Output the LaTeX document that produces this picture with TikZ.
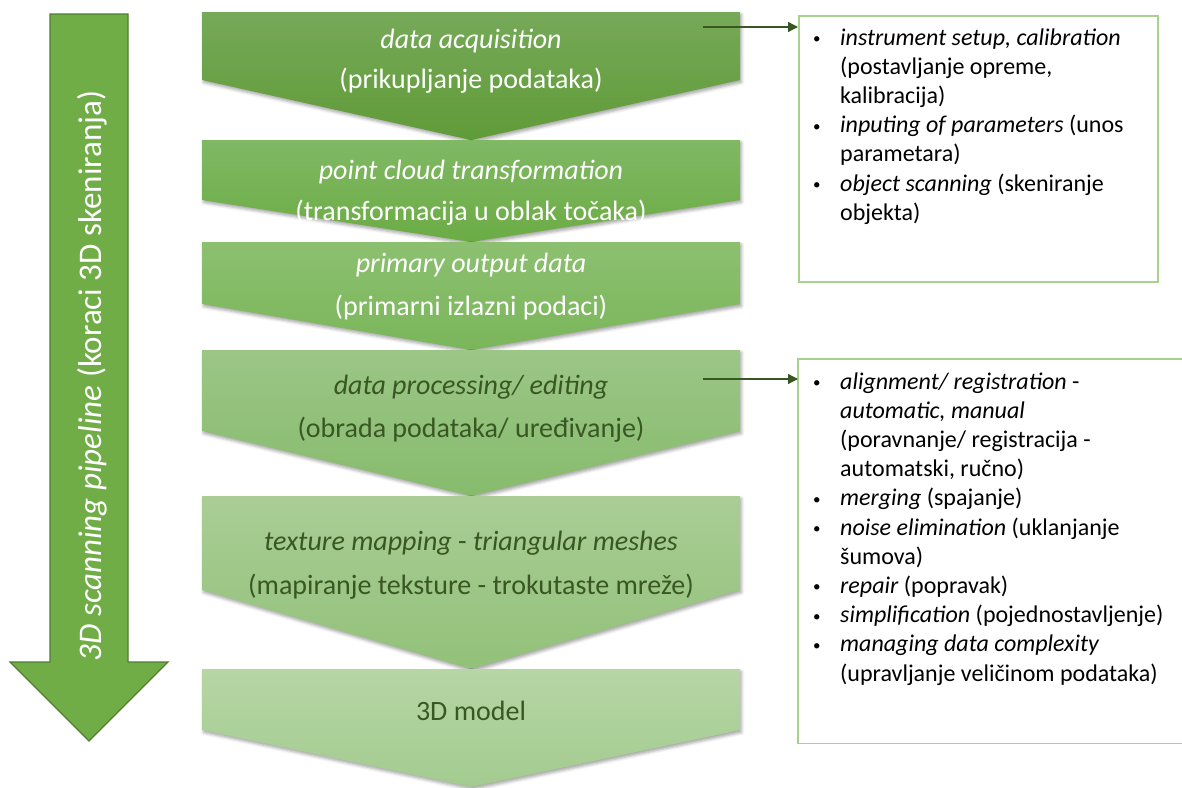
\documentclass[tikz,border=0pt]{standalone}
\usepackage{fontspec}
\setmainfont{Carlito}
\usetikzlibrary{arrows.meta,shadows,shadows.blur}
\definecolor{arrfill}{RGB}{112,173,71}
\definecolor{arrline}{RGB}{80,126,50}
\definecolor{dkgreen}{RGB}{56,87,35}
\definecolor{boxline}{RGB}{169,209,142}
\definecolor{c1t}{RGB}{118,169,88}\definecolor{c1b}{RGB}{96,155,56}
\definecolor{c2t}{RGB}{128,184,100}\definecolor{c2b}{RGB}{107,172,68}
\definecolor{c3t}{RGB}{140,192,112}\definecolor{c3b}{RGB}{122,182,90}
\definecolor{c4t}{RGB}{156,198,135}\definecolor{c4b}{RGB}{134,187,108}
\definecolor{c5t}{RGB}{170,205,150}\definecolor{c5b}{RGB}{146,193,121}
\definecolor{c6t}{RGB}{182,214,165}\definecolor{c6b}{RGB}{163,203,143}
\newcommand\chevshape[5]{%
  \path[chevshadow, top color=#4, bottom color=#5]
    (202,#1) -- (740,#1) -- (740,#2) -- (471,#3) -- (202,#2) -- cycle;}
\newcommand\smallbul{\raisebox{1.5pt}{\fontsize{15}{15}\selectfont\textbullet}}
\begin{document}
\begin{tikzpicture}[x=1pt,y=-1pt,
  chevshadow/.style={blur shadow={shadow xshift=1.5pt, shadow yshift=-2.5pt, shadow blur radius=3pt, shadow opacity=35}},
  chevw/.style={text=white, font=\fontsize{28}{34}\selectfont, anchor=mid, inner sep=0pt},
  chevd/.style={text=dkgreen, font=\fontsize{28}{34}\selectfont, anchor=mid, inner sep=0pt},
  infobox/.style={draw=boxline, line width=1.5pt, inner sep=0pt, anchor=north west},
  boxtext/.style={anchor=base west, inner sep=0pt, font=\fontsize{24}{29.2}\selectfont, text=black},
  conn/.style={draw=dkgreen, line width=1.3pt, -{Triangle[length=10pt,width=10pt]}}]
\useasboundingbox (0,0) rectangle (1182,787);
% big arrow on the left
\path[draw=arrline, fill=arrfill, line width=1.2pt]
  (50,14) -- (128,14) -- (128,662) -- (168,662) -- (89,741) -- (10,662) -- (50,662) -- cycle;
\node[rotate=90, anchor=mid, inner sep=0pt, text=white, font=\fontsize{33}{40}\selectfont] (pipe) at (99,376)
  {\textit{3D scanning pipeline} (koraci 3D skeniranja)};
% chevrons
\chevshape{12}{80}{140}{c1t}{c1b}
\chevshape{140}{200}{242}{c2t}{c2b}
\chevshape{242}{304}{350}{c3t}{c3b}
\chevshape{350}{431}{496}{c4t}{c4b}
\chevshape{496}{590}{669}{c5t}{c5b}
\chevshape{669}{730}{787}{c6t}{c6b}
\node[chevw] (t1a) at (471,46) {\textit{data acquisition}};
\node[chevw] (t1b) at (471,86) {(prikupljanje podataka)};
\node[chevw] (t2a) at (471,177) {\textit{point cloud transformation}};
\node[chevw] (t2b) at (471,218) {(transformacija u oblak točaka)};
\node[chevw] (t3a) at (471,270) {\textit{primary output data}};
\node[chevw] (t3b) at (471,313) {(primarni izlazni podaci)};
\node[chevd] (t4a) at (471,392) {\textit{data processing/ editing}};
\node[chevd] (t4b) at (471,435) {(obrada podataka/ uređivanje)};
\node[chevd] (t5a) at (471,548) {\textit{texture mapping} - \textit{triangular meshes}};
\node[chevd] (t5b) at (471,592) {(mapiranje teksture - trokutaste mreže)};
\node[chevd] (t6a) at (471,718) {3D model};
% info boxes
\node[infobox, minimum width=359pt, minimum height=266pt] (box1) at (798,15) {};
\node[inner sep=0pt, anchor=north west, minimum width=385pt, minimum height=384pt] (box2) at (798,359) {};
\draw[draw=boxline, line width=1.5pt] (box2.north east) -| (box2.south west) -- (box2.south east);
\node[boxtext] (list1) at (813,45) {\begin{tabular}[t]{@{}p{27pt}@{}l@{}}
\smallbul & \textit{instrument setup, calibration}\\
 & (postavljanje opreme,\\
 & kalibracija)\\
\smallbul & \textit{inputing of parameters} (unos\\
 & parametara)\\
\smallbul & \textit{object scanning} (skeniranje\\
 & objekta)
\end{tabular}};
\node[boxtext] (list2) at (813,389) {\begin{tabular}[t]{@{}p{27pt}@{}l@{}}
\smallbul & \textit{alignment/ registration} -\\
 & \textit{automatic, manual}\\
 & (poravnanje/ registracija -\\
 & automatski, ručno)\\
\smallbul & \textit{merging} (spajanje)\\
\smallbul & \textit{noise elimination} (uklanjanje\\
 & šumova)\\
\smallbul & \textit{repair} (popravak)\\
\smallbul & \textit{simplification} (pojednostavljenje)\\
\smallbul & \textit{managing data complexity}\\
 & (upravljanje veličinom podataka)
\end{tabular}};
% connectors
\coordinate (a1) at (703,27);
\coordinate (a2) at (703,379);
\draw[conn] (a1) -- (box1.west |- a1);
\draw[conn] (a2) -- (box2.west |- a2);
\end{tikzpicture}
\end{document}
